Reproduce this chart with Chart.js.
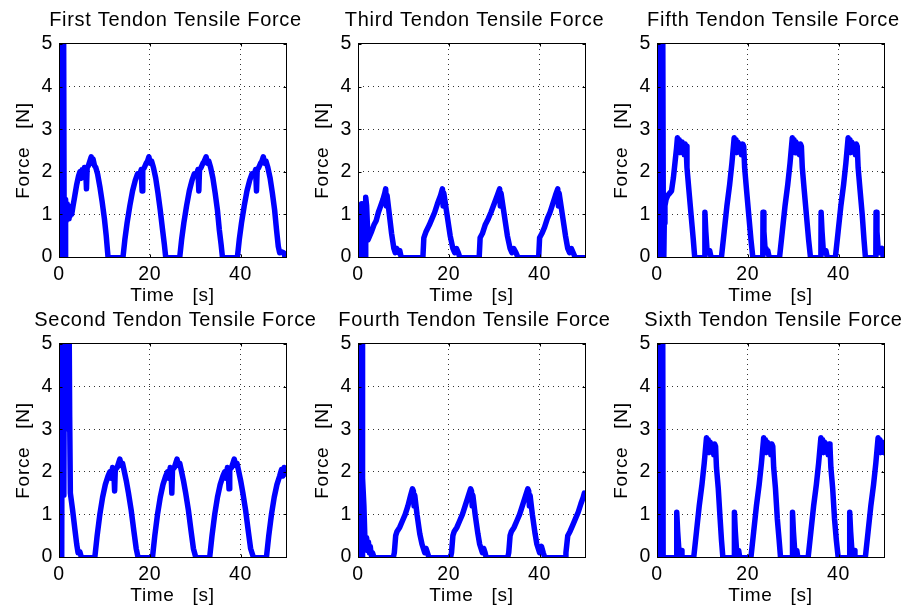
<!DOCTYPE html>
<html>
<head>
<meta charset="utf-8">
<script src="https://cdn.jsdelivr.net/npm/chart.js@4/dist/chart.umd.min.js"></script>
<style>
html,body{margin:0;padding:0;background:#fff;}
#wrap{position:relative;width:916px;height:608px;overflow:hidden;background:#fff;}
#wrap canvas{position:absolute;}
</style>
</head>
<body>
<div id="wrap">
<canvas id="c1" width="353" height="310" style="left:-1px;top:0px"></canvas>
<canvas id="c2" width="353" height="310" style="left:298px;top:0px"></canvas>
<canvas id="c3" width="353" height="310" style="left:597px;top:0px"></canvas>
<canvas id="c4" width="353" height="310" style="left:-1px;top:300px"></canvas>
<canvas id="c5" width="353" height="310" style="left:298px;top:300px"></canvas>
<canvas id="c6" width="353" height="310" style="left:597px;top:300px"></canvas>
</div>
<script>
// ---- tick labels / texts ----
const xTickValues = [0, 20, 40];
const yTickValues = [0, 1, 2, 3, 4, 5];
const xAxisLabel = 'Time   [s]';
const yAxisLabel = 'Force   [N]';
const panelTitles = [
  'First Tendon Tensile Force', 'Third Tendon Tensile Force', 'Fifth Tendon Tensile Force',
  'Second Tendon Tensile Force', 'Fourth Tendon Tensile Force', 'Sixth Tendon Tensile Force'
];

// ---- series: [time s, force N] ----
const firstTendon = [
  [0,0],[0.3,0],[0.45,6],[1.0,6],[1.15,0],[1.35,0],[1.45,1.35],[1.6,0.85],[1.8,1.25],[2.0,0.9],[2.2,1.2],[2.4,0.95],[2.6,1.15],[2.8,1.0],[3.1,1.2],[3.5,1.45],[3.9,1.7],[4.3,1.9],[4.6,2.0],[4.9,1.85],[5.1,2.05],[5.3,1.95],[5.6,2.1],[5.9,2.0],[6.05,1.6],[6.2,2.1],[6.5,2.15],[6.8,2.25],[7.1,2.35],[7.3,2.2],[7.5,2.3],[7.8,2.15],[8.1,2.1],[8.5,1.95],[9.0,1.65],[9.5,1.3],[10.0,0.9],[10.4,0.5],[10.8,0],
  [14.1,0],[14.5,0.4],[15.0,0.8],[15.6,1.2],[16.2,1.55],[16.8,1.8],[17.3,1.95],[17.7,1.9],[18.1,2.05],[18.3,1.55],[18.45,2.05],[18.8,2.1],[19.2,2.2],[19.5,2.25],[19.8,2.35],[20.1,2.2],[20.4,2.25],[20.8,2.1],[21.3,1.85],[21.8,1.5],[22.3,1.1],[22.8,0.65],[23.2,0.3],[23.5,0],
  [26.6,0],[27.0,0.4],[27.5,0.8],[28.1,1.2],[28.7,1.55],[29.3,1.8],[29.8,1.95],[30.2,1.9],[30.6,2.05],[30.8,1.55],[30.95,2.05],[31.3,2.1],[31.7,2.2],[32.0,2.25],[32.4,2.35],[32.7,2.2],[33.0,2.25],[33.4,2.1],[33.9,1.85],[34.4,1.5],[34.9,1.1],[35.3,0.65],[35.7,0.3],[36.0,0],
  [39.3,0],[39.7,0.4],[40.2,0.8],[40.8,1.2],[41.4,1.55],[42.0,1.8],[42.5,1.95],[42.9,1.9],[43.3,2.05],[43.5,1.55],[43.65,2.05],[44.0,2.1],[44.4,2.2],[44.7,2.25],[45.0,2.35],[45.3,2.2],[45.6,2.25],[46.0,2.1],[46.5,1.85],[47.0,1.5],[47.5,1.1],[47.9,0.65],[48.3,0.25],[48.6,0.1],[49.0,0.12],[49.5,0.1],[49.8,0],[50,0]
];
const thirdTendon = [
  [0,0],[0.7,0],[0.8,1.25],[1.0,1.0],[1.15,1.25],[1.35,0],[1.55,0],[1.65,1.1],[1.75,1.4],[1.9,1.2],[2.2,0.4],[2.6,0.5],[3.0,0.6],[3.5,0.75],[4.0,0.85],[4.5,1.05],[5.0,1.2],[5.5,1.35],[5.9,1.5],[6.1,1.6],[6.25,1.2],[6.4,1.45],[6.9,1.0],[7.4,0.55],[7.9,0.2],[8.2,0.1],[8.5,0.2],[8.9,0.1],[9.2,0.15],[9.5,0],
  [14.3,0],[14.5,0.45],[15.0,0.6],[15.7,0.75],[16.3,0.9],[16.9,1.05],[17.5,1.25],[18.2,1.45],[18.6,1.6],[18.75,1.2],[18.9,1.5],[19.6,1.0],[20.3,0.5],[20.9,0.2],[21.3,0.1],[21.7,0.2],[22.1,0.1],[22.4,0],
  [26.7,0],[26.9,0.45],[27.4,0.55],[28.0,0.75],[28.7,0.9],[29.3,1.05],[30.0,1.25],[30.7,1.45],[31.2,1.6],[31.35,1.2],[31.5,1.5],[32.2,1.0],[32.9,0.5],[33.5,0.2],[33.9,0.1],[34.3,0.2],[34.8,0.1],[35.2,0],
  [39.8,0],[40.0,0.45],[40.5,0.55],[41.1,0.7],[41.7,0.9],[42.3,1.05],[42.9,1.25],[43.5,1.45],[44.0,1.6],[44.15,1.2],[44.3,1.5],[45.0,1.0],[45.7,0.5],[46.2,0.2],[46.6,0.1],[47.0,0.2],[47.4,0.1],[47.8,0],[50,0]
];
const fifthTendon = [
  [0,0],[0.05,6],[0.2,0],[0.35,6],[0.5,0],[0.65,6],[0.8,0],[0.95,6],[1.1,0],[1.25,6],[1.4,0.5],[1.5,0],[1.6,0.8],[1.75,1.2],[2.0,1.35],[2.4,1.45],[2.8,1.5],[3.2,1.55],[3.6,1.85],[4.0,2.25],[4.3,2.55],[4.5,2.8],[4.7,2.55],[4.9,2.75],[5.1,2.45],[5.3,2.7],[5.5,2.5],[5.8,2.65],[6.0,2.4],[6.2,2.65],[6.4,2.6],[6.6,2.1],[7.0,1.6],[7.5,1.0],[8.0,0.4],[8.3,0],
  [10.5,0],[10.55,1.05],[10.75,0.6],[11.0,0.2],[11.2,0.1],[11.6,0.15],[11.9,0],
  [14.2,0],[14.8,0.6],[15.4,1.2],[16.0,1.7],[16.5,2.2],[17.0,2.8],[17.2,2.5],[17.4,2.75],[17.6,2.45],[17.8,2.7],[18.1,2.5],[18.4,2.65],[18.6,2.4],[18.9,2.65],[19.1,2.6],[19.3,2.1],[19.7,1.6],[20.2,1.0],[20.7,0.4],[21.1,0],
  [23.3,0],[23.35,1.05],[23.55,0.6],[23.8,0.2],[24.0,0.1],[24.4,0.15],[24.7,0],
  [27.0,0],[27.6,0.6],[28.2,1.2],[28.8,1.7],[29.3,2.2],[29.8,2.8],[30.0,2.5],[30.2,2.75],[30.4,2.45],[30.6,2.7],[30.9,2.5],[31.2,2.65],[31.4,2.4],[31.6,2.65],[31.8,2.6],[32.0,2.1],[32.4,1.6],[32.9,1.0],[33.4,0.4],[33.8,0],
  [36.1,0],[36.15,1.05],[36.35,0.6],[36.6,0.2],[36.8,0.1],[37.2,0.15],[37.5,0],
  [39.3,0],[39.9,0.6],[40.5,1.2],[41.1,1.7],[41.6,2.2],[42.1,2.8],[42.3,2.5],[42.5,2.75],[42.7,2.45],[42.9,2.7],[43.2,2.5],[43.5,2.65],[43.7,2.4],[43.9,2.65],[44.1,2.6],[44.3,2.1],[44.7,1.6],[45.2,1.0],[45.6,0.4],[45.9,0],
  [48.2,0],[48.25,1.05],[48.45,0.6],[48.7,0.2],[48.9,0.1],[49.3,0.15],[49.6,0.2],[49.8,0],[50,0]
];
const secondTendon = [
  [0,0],[0.6,0],[0.7,6],[0.82,1.5],[0.95,6],[1.07,1.45],[1.2,6],[1.32,3.0],[1.45,6],[1.57,3.5],[1.7,6],[1.82,3.4],[1.95,6],[2.07,3.5],[2.2,6],[2.35,3.3],[2.5,1.5],[3.0,1.1],[3.5,0.65],[3.9,0.3],[4.2,0.1],[4.6,0.12],[4.9,0],
  [7.9,0],[8.4,0.5],[9.0,1.0],[9.6,1.4],[10.2,1.7],[10.8,1.9],[11.2,2.0],[11.5,1.85],[11.8,2.1],[12.1,1.95],[12.25,1.55],[12.4,2.05],[12.8,2.1],[13.1,2.2],[13.4,2.3],[13.7,2.15],[14.0,2.2],[14.3,2.05],[14.8,1.8],[15.3,1.5],[15.9,1.1],[16.5,0.6],[17.0,0.2],[17.4,0],
  [20.6,0],[21.1,0.5],[21.7,1.0],[22.3,1.4],[22.9,1.7],[23.5,1.9],[23.9,2.0],[24.2,1.85],[24.5,2.1],[24.7,1.95],[24.85,1.5],[25.0,2.05],[25.4,2.1],[25.7,2.2],[26.0,2.3],[26.3,2.15],[26.6,2.2],[26.9,2.05],[27.4,1.8],[27.9,1.5],[28.5,1.1],[29.1,0.6],[29.6,0.2],[30.1,0],
  [33.2,0],[33.7,0.5],[34.3,1.0],[34.9,1.4],[35.5,1.7],[36.1,1.9],[36.5,2.0],[36.8,1.85],[37.1,2.1],[37.3,1.95],[37.45,1.6],[37.6,2.05],[38.0,2.1],[38.3,2.2],[38.6,2.3],[38.9,2.15],[39.2,2.2],[39.5,2.05],[40.0,1.8],[40.5,1.5],[41.1,1.1],[41.7,0.6],[42.2,0.2],[42.5,0.1],[42.8,0],
  [45.7,0],[46.2,0.5],[46.8,1.0],[47.4,1.4],[48.0,1.7],[48.6,1.9],[49.0,2.05],[49.3,1.9],[49.6,2.1],[50,1.95]
];
const fourthTendon = [
  [0,0],[0.1,0],[0.15,6],[0.9,6],[0.95,0],[1.05,1.85],[1.3,1.2],[1.5,0.5],[1.7,0.3],[1.9,0.45],[2.1,0.15],[2.3,0.35],[2.5,0.1],[2.7,0.25],[2.9,0.05],[3.2,0.1],[3.5,0],
  [7.8,0],[8.0,0.1],[8.3,0.5],[8.6,0.6],[9.2,0.7],[9.8,0.85],[10.4,1.0],[11.0,1.2],[11.6,1.45],[12.0,1.6],[12.2,1.55],[12.35,1.2],[12.5,1.45],[13.0,1.0],[13.6,0.55],[14.1,0.3],[14.4,0.2],[14.7,0.1],[15.0,0.2],[15.3,0.1],[15.6,0],
  [20.4,0],[20.6,0.1],[20.9,0.5],[21.2,0.6],[21.8,0.7],[22.4,0.85],[23.0,1.0],[23.6,1.2],[24.2,1.4],[24.8,1.6],[25.0,1.55],[25.15,1.2],[25.3,1.45],[25.8,1.0],[26.4,0.55],[26.8,0.3],[27.1,0.2],[27.4,0.1],[27.7,0.2],[28.0,0.1],[28.2,0],
  [33.0,0],[33.2,0.1],[33.5,0.5],[33.8,0.6],[34.4,0.7],[35.0,0.85],[35.6,1.0],[36.2,1.2],[36.8,1.4],[37.4,1.6],[37.6,1.55],[37.75,1.2],[37.9,1.45],[38.4,1.0],[39.0,0.55],[39.4,0.3],[39.7,0.2],[40.0,0.1],[40.4,0.25],[40.8,0.1],[41.1,0],
  [45.6,0],[45.8,0.1],[46.2,0.5],[46.7,0.6],[47.3,0.75],[47.9,0.9],[48.5,1.05],[49.1,1.25],[49.6,1.4],[49.85,1.5],[50,1.45]
];
const sixthTendon = [
  [0,0],[0.1,0],[0.15,6],[1.25,6],[1.35,0],
  [4.3,0],[4.35,1.05],[4.55,0.6],[4.8,0.2],[5.0,0.1],[5.3,0.15],[5.5,0],
  [8.1,0],[8.7,0.6],[9.3,1.2],[9.9,1.7],[10.4,2.2],[10.9,2.8],[11.1,2.5],[11.3,2.75],[11.5,2.45],[11.7,2.7],[12.0,2.5],[12.3,2.65],[12.5,2.4],[12.7,2.65],[12.9,2.6],[13.1,2.1],[13.5,1.6],[13.9,0.9],[14.2,0.4],[14.5,0],
  [17.0,0],[17.05,1.05],[17.25,0.6],[17.5,0.2],[17.7,0.1],[18.0,0.15],[18.2,0],
  [20.7,0],[21.3,0.6],[21.9,1.2],[22.5,1.7],[23.0,2.2],[23.5,2.8],[23.7,2.5],[23.9,2.75],[24.1,2.45],[24.3,2.7],[24.6,2.5],[24.9,2.65],[25.1,2.4],[25.3,2.65],[25.5,2.6],[25.7,2.1],[26.1,1.6],[26.5,0.9],[26.9,0.4],[27.2,0],
  [29.8,0],[29.85,1.05],[30.05,0.6],[30.3,0.2],[30.5,0.1],[30.8,0.15],[31.0,0],
  [33.3,0],[33.9,0.6],[34.5,1.2],[35.1,1.7],[35.6,2.2],[36.1,2.8],[36.3,2.5],[36.5,2.75],[36.7,2.45],[36.9,2.7],[37.2,2.5],[37.5,2.65],[37.7,2.4],[37.9,2.65],[38.1,2.6],[38.3,2.1],[38.7,1.6],[39.1,0.9],[39.5,0.4],[39.9,0],
  [42.4,0],[42.45,1.05],[42.65,0.6],[42.9,0.2],[43.1,0.1],[43.4,0.15],[43.6,0],
  [45.9,0],[46.5,0.6],[47.1,1.2],[47.7,1.7],[48.2,2.2],[48.7,2.8],[48.9,2.5],[49.1,2.75],[49.3,2.45],[49.5,2.7],[49.7,2.5],[49.85,2.6],[50,2.45]
];

const panelSeries = [firstTendon, thirdTendon, fifthTendon, secondTendon, fourthTendon, sixthTendon];
const canvasIds = ['c1','c2','c3','c4','c5','c6'];

// ---- styling ----
const FONT = "'Liberation Sans', Arial, Helvetica, sans-serif";
Chart.defaults.font.family = FONT;
Chart.defaults.color = '#000';

const spacing = {
  id: 'spacing',
  beforeLayout(c) { c.ctx.letterSpacing = '0.7px'; },
  beforeDraw(c) { c.ctx.letterSpacing = '0.7px'; }
};

const frame = {
  id: 'frame',
  afterDatasetsDraw(c) {
    const {left, top, right, bottom} = c.chartArea;
    const ctx = c.ctx;
    ctx.save();
    ctx.setLineDash([]);
    ctx.strokeStyle = '#000';
    ctx.lineWidth = 1;
    const L = left + 0.5, R = right + 0.5, T = top - 0.5, B = bottom + 0.5;
    ctx.strokeRect(L, T, R - L, B - T);
    ctx.beginPath();
    const xs = c.scales.x, ys = c.scales.y, tl = 3;
    xs.ticks.forEach(t => {
      const p = Math.round(xs.getPixelForValue(t.value)) + 0.5;
      ctx.moveTo(p, B); ctx.lineTo(p, B - tl);
      ctx.moveTo(p, T); ctx.lineTo(p, T + tl);
    });
    ys.ticks.forEach(t => {
      const p = Math.round(ys.getPixelForValue(t.value)) + 0.5;
      ctx.moveTo(L, p); ctx.lineTo(L + tl, p);
      ctx.moveTo(R, p); ctx.lineTo(R - tl, p);
    });
    ctx.stroke();
    ctx.restore();
  }
};

const gridColor = (edgeValues) => (c) =>
  (c.tick && edgeValues.includes(c.tick.value)) ? 'rgba(0,0,0,0)' : '#333333';

function makePanel(id, title, series) {
  return new Chart(document.getElementById(id), {
    type: 'line',
    data: {
      datasets: [{
        data: series.map(p => ({x: p[0], y: p[1]})),
        borderColor: '#0000ff',
        borderWidth: 5.5,
        pointRadius: 0,
        tension: 0,
        fill: false,
        borderJoinStyle: 'round',
        borderCapStyle: 'round',
        segment: {
          borderWidth: s => (s.p0.parsed.y === 0 && s.p1.parsed.y === 0) ? 4 : undefined
        }
      }]
    },
    options: {
      responsive: false,
      animation: false,
      devicePixelRatio: 1,
      events: [],
      layout: {padding: 0},
      plugins: {
        legend: {display: false},
        tooltip: {enabled: false},
        title: {
          display: true, text: title, color: '#000',
          font: {size: 20, lineHeight: 1, weight: 'normal'},
          padding: {top: 10, bottom: 14}
        }
      },
      scales: {
        x: {
          type: 'linear', min: 0, max: 50,
          afterBuildTicks: s => { s.ticks = xTickValues.map(v => ({value: v})); },
          afterFit: s => { s.height = 53; },
          grid: {color: gridColor([0, 50]), lineWidth: 1, drawTicks: false},
          border: {display: false, dash: [1, 4]},
          ticks: {color: '#000', font: {size: 19.5, lineHeight: 1}, padding: 8, maxRotation: 0, minRotation: 0, autoSkip: false},
          title: {display: true, text: xAxisLabel, color: '#000', font: {size: 19, lineHeight: 1}, padding: {top: 0, bottom: 5}}
        },
        y: {
          type: 'linear', min: 0, max: 5,
          afterBuildTicks: s => { s.ticks = yTickValues.map(v => ({value: v})); },
          afterFit: s => { s.width = 60; },
          grid: {color: gridColor([0, 5]), lineWidth: 1, drawTicks: false},
          border: {display: false, dash: [1, 4]},
          ticks: {color: '#000', font: {size: 19.5, lineHeight: 1}, padding: 6},
          title: {display: true, text: yAxisLabel, color: '#000', font: {size: 19, lineHeight: 1}, padding: {top: 15, bottom: 0}}
        },
        yR: {
          type: 'linear', position: 'right', display: true,
          grid: {display: false}, border: {display: false}, ticks: {display: false},
          afterFit: s => { s.width = 66; }
        }
      }
    },
    plugins: [spacing, frame]
  });
}

canvasIds.forEach((id, i) => makePanel(id, panelTitles[i], panelSeries[i]));
</script>
</body>
</html>
